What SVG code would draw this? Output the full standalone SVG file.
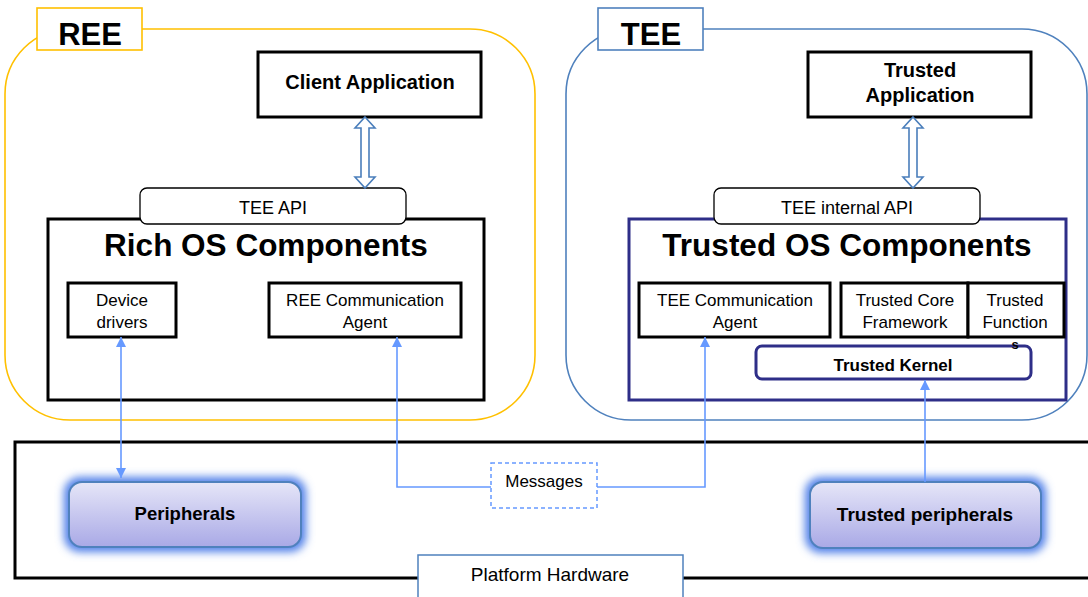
<svg xmlns="http://www.w3.org/2000/svg" width="1088" height="597" viewBox="0 0 1088 597">
<style>
text{font-family:"Liberation Sans",Arial,sans-serif;fill:#000;text-anchor:middle}
.b{font-weight:bold}
.box{fill:#fff;stroke:#000;stroke-width:3}
.api{fill:#fff;stroke:#000;stroke-width:1.3}
.conn{fill:none;stroke:#6699FF;stroke-width:1.6}
.dbl{fill:#fff;stroke:#4A7EBB;stroke-width:1.6}
.per{fill:url(#pg);stroke:#4F81BD;stroke-width:2}
.glow{fill:#4F7FE8;filter:url(#blur)}
</style>
<defs>
<linearGradient id="pg" x1="0" y1="0" x2="0" y2="1">
<stop offset="0" stop-color="#E6E6F8"/>
<stop offset="1" stop-color="#A9A9E6"/>
</linearGradient>
<filter id="blur" x="-20%" y="-40%" width="140%" height="180%"><feGaussianBlur stdDeviation="4"/></filter>
<marker id="ah" viewBox="0 0 10 10" refX="10" refY="5" markerWidth="10" markerHeight="10" markerUnits="userSpaceOnUse" orient="auto-start-reverse">
<path d="M0,0 L10,5 L0,10 Z" fill="#6699FF"/>
</marker>
</defs>

<g id="platform-hardware">
<rect x="15" y="442" width="1085" height="136" fill="#fff" stroke="#000" stroke-width="3"/>
<rect x="418" y="555" width="265" height="50" fill="#fff" stroke="#4F81BD" stroke-width="1.5"/>
<text x="550" y="581" font-size="19">Platform Hardware</text>
</g>

<g id="ree">
<rect x="5" y="29" width="530" height="391" rx="65" fill="none" stroke="#FFC000" stroke-width="1.6"/>
<rect x="37" y="8" width="105" height="42" fill="#fff" stroke="#FFC000" stroke-width="1.6"/>
<text x="90" y="45" font-size="31" class="b">REE</text>
</g>

<g id="tee">
<rect x="566" y="29" width="521" height="391" rx="65" fill="none" stroke="#4F81BD" stroke-width="1.6"/>
<rect x="598" y="8" width="105" height="42" fill="#fff" stroke="#4F81BD" stroke-width="1.6"/>
<text x="651" y="45" font-size="31" class="b">TEE</text>
</g>

<g id="client-application">
<rect x="258" y="52" width="223" height="65" class="box"/>
<text x="370" y="89" font-size="20" class="b">Client Application</text>
</g>

<g id="trusted-application">
<rect x="808" y="52" width="223" height="65" class="box"/>
<text x="920" y="77" font-size="20" class="b">Trusted</text>
<text x="920" y="102" font-size="20" class="b">Application</text>
</g>

<g id="rich-os">
<rect x="48" y="219" width="436" height="181" class="box"/>
<text x="266" y="256" font-size="31.5" class="b">Rich OS Components</text>
</g>

<g id="tee-api">
<rect x="140" y="188" width="266" height="36" rx="7" class="api"/>
<text x="273" y="214" font-size="18">TEE API</text>
</g>

<g id="device-drivers">
<rect x="68" y="283" width="108" height="54" class="box"/>
<text x="122" y="306" font-size="17">Device</text>
<text x="122" y="328" font-size="17">drivers</text>
</g>

<g id="ree-comm-agent">
<rect x="269" y="283" width="192" height="54" class="box"/>
<text x="365" y="306" font-size="17">REE Communication</text>
<text x="365" y="328" font-size="17">Agent</text>
</g>

<g id="trusted-os">
<rect x="629" y="219" width="437" height="181" fill="#fff" stroke="#2E2E88" stroke-width="3"/>
<text x="847" y="256" font-size="31.5" class="b">Trusted OS Components</text>
</g>

<g id="tee-internal-api">
<rect x="714" y="188" width="266" height="36" rx="7" class="api"/>
<text x="847" y="214" font-size="18">TEE internal API</text>
</g>

<g id="tee-comm-agent">
<rect x="639" y="283" width="191" height="54" class="box"/>
<text x="735" y="306" font-size="17">TEE Communication</text>
<text x="735" y="328" font-size="17">Agent</text>
</g>

<g id="trusted-core-framework">
<rect x="841" y="283" width="127" height="54" class="box"/>
<text x="905" y="306" font-size="17">Trusted Core</text>
<text x="905" y="328" font-size="17">Framework</text>
</g>

<g id="trusted-kernel">
<rect x="756" y="346" width="275" height="33" rx="6" fill="#fff" stroke="#2E2E88" stroke-width="3"/>
<text x="893" y="371" font-size="17" class="b">Trusted Kernel</text>
</g>

<g id="trusted-functions">
<rect x="968" y="283" width="96" height="54" class="box"/>
<text x="1015" y="306" font-size="17">Trusted</text>
<text x="1015" y="328" font-size="17">Function</text>
<text x="1015" y="349" font-size="13" class="b">s</text>
</g>

<g id="messages">
<rect x="491" y="463" width="106" height="45" fill="#fff" stroke="#6699FF" stroke-width="1.5" stroke-dasharray="4,3"/>
<text x="544" y="487" font-size="17">Messages</text>
</g>

<g id="peripherals">
<rect x="64" y="477" width="242" height="75" rx="16" class="glow"/>
<rect x="69" y="482" width="232" height="65" rx="13" class="per"/>
<text x="185" y="520" font-size="18.5" class="b">Peripherals</text>
</g>

<g id="trusted-peripherals">
<rect x="805" y="477" width="241" height="76" rx="16" class="glow"/>
<rect x="810" y="482" width="231" height="66" rx="13" class="per"/>
<text x="925" y="521" font-size="19" class="b">Trusted peripherals</text>
</g>

<g id="connectors">
<path class="dbl" d="M365,117 L375,128 L369,128 L369,177 L375,177 L365,188 L355,177 L361,177 L361,128 L355,128 Z"/>
<path class="dbl" d="M913,117 L923,128 L917,128 L917,177 L923,177 L913,188 L903,177 L909,177 L909,128 L903,128 Z"/>
<line class="conn" x1="121" y1="337" x2="121" y2="478" marker-start="url(#ah)" marker-end="url(#ah)"/>
<polyline class="conn" points="491,487 397,487 397,337" marker-end="url(#ah)"/>
<polyline class="conn" points="597,487 705,487 705,337" marker-end="url(#ah)"/>
<line class="conn" x1="925" y1="482" x2="925" y2="380" marker-end="url(#ah)"/>
</g>
</svg>
